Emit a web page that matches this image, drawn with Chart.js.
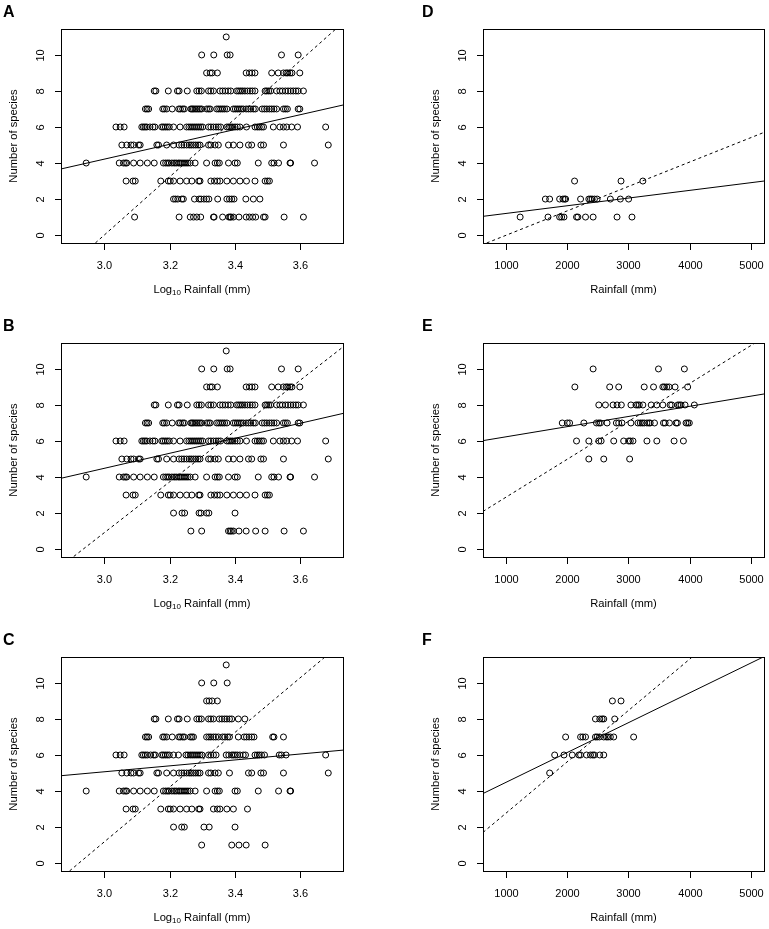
<!DOCTYPE html>
<html>
<head>
<meta charset="utf-8">
<script src="https://cdn.jsdelivr.net/npm/chart.js@4.4.0/dist/chart.umd.min.js"></script>
<style>
    html, body { margin: 0; padding: 0; background: #fff; }
    #wrap { position: relative; width: 769px; height: 929px; overflow: hidden; }
    canvas { position: absolute; }
</style>
</head>
<body>
<div id="wrap"></div>
<script>
// --- DATA: log10 rainfall per number of species (index = species count) ---
const logRainA = [
    [],
    [3.093, 3.229, 3.263, 3.273, 3.283, 3.295, 3.334, 3.336, 3.362, 3.381, 3.385, 3.388, 3.395, 3.412, 3.434, 3.444, 3.454, 3.463, 3.487, 3.492, 3.550, 3.609],
    [3.212, 3.218, 3.225, 3.237, 3.242, 3.276, 3.290, 3.296, 3.305, 3.313, 3.320, 3.347, 3.375, 3.383, 3.390, 3.397, 3.433, 3.456, 3.476],
    [3.067, 3.088, 3.095, 3.173, 3.196, 3.202, 3.212, 3.232, 3.252, 3.268, 3.289, 3.293, 3.326, 3.337, 3.346, 3.354, 3.375, 3.395, 3.415, 3.435, 3.461, 3.492, 3.499, 3.505],
    [2.945, 3.046, 3.059, 3.065, 3.069, 3.090, 3.110, 3.132, 3.153, 3.181, 3.188, 3.194, 3.199, 3.207, 3.214, 3.220, 3.227, 3.232, 3.238, 3.244, 3.250, 3.256, 3.263, 3.278, 3.313, 3.339, 3.346, 3.352, 3.380, 3.400, 3.407, 3.471, 3.512, 3.519, 3.533, 3.568, 3.570, 3.643],
    [3.054, 3.069, 3.082, 3.090, 3.105, 3.110, 3.161, 3.166, 3.191, 3.212, 3.229, 3.237, 3.244, 3.252, 3.260, 3.266, 3.273, 3.280, 3.287, 3.293, 3.319, 3.326, 3.339, 3.349, 3.380, 3.395, 3.415, 3.441, 3.451, 3.479, 3.487, 3.548, 3.685],
    [3.036, 3.049, 3.061, 3.115, 3.120, 3.125, 3.130, 3.140, 3.149, 3.155, 3.176, 3.181, 3.187, 3.193, 3.199, 3.212, 3.232, 3.252, 3.259, 3.265, 3.271, 3.277, 3.283, 3.289, 3.295, 3.301, 3.319, 3.326, 3.334, 3.342, 3.349, 3.356, 3.375, 3.381, 3.387, 3.393, 3.400, 3.407, 3.415, 3.435, 3.461, 3.468, 3.474, 3.481, 3.487, 3.517, 3.537, 3.548, 3.558, 3.573, 3.591, 3.677],
    [3.126, 3.131, 3.136, 3.179, 3.184, 3.191, 3.208, 3.228, 3.233, 3.240, 3.245, 3.265, 3.269, 3.273, 3.278, 3.283, 3.288, 3.293, 3.298, 3.313, 3.319, 3.324, 3.344, 3.350, 3.356, 3.362, 3.368, 3.375, 3.395, 3.401, 3.407, 3.413, 3.419, 3.425, 3.434, 3.441, 3.448, 3.456, 3.462, 3.483, 3.490, 3.497, 3.505, 3.512, 3.519, 3.527, 3.548, 3.554, 3.560, 3.593, 3.598],
    [3.153, 3.158, 3.196, 3.224, 3.229, 3.254, 3.283, 3.290, 3.297, 3.319, 3.326, 3.334, 3.354, 3.362, 3.370, 3.379, 3.387, 3.405, 3.411, 3.417, 3.423, 3.430, 3.438, 3.446, 3.453, 3.461, 3.492, 3.497, 3.503, 3.509, 3.527, 3.537, 3.545, 3.554, 3.562, 3.570, 3.578, 3.586, 3.593, 3.609],
    [3.313, 3.324, 3.330, 3.346, 3.434, 3.444, 3.452, 3.461, 3.512, 3.532, 3.548, 3.556, 3.561, 3.568, 3.574, 3.598],
    [3.298, 3.335, 3.376, 3.385, 3.542, 3.593],
    [3.373]
];

// B: same sites as A except fewer at 1 and 2 species
const logRainB1 = [3.265, 3.298, 3.380, 3.385, 3.389, 3.395, 3.412, 3.434, 3.463, 3.492, 3.550, 3.609];
const logRainB2 = [3.212, 3.238, 3.246, 3.290, 3.296, 3.313, 3.320, 3.400];
const logRainB = [[], logRainB1, logRainB2, ...logRainA.slice(3)];

const logRainC = [
    [],
    [3.298, 3.390, 3.412, 3.434, 3.492],
    [3.212, 3.237, 3.245, 3.305, 3.321, 3.400],
    [3.067, 3.088, 3.095, 3.173, 3.196, 3.202, 3.212, 3.232, 3.252, 3.268, 3.289, 3.293, 3.334, 3.346, 3.354, 3.375, 3.395, 3.438],
    [2.945, 3.046, 3.059, 3.065, 3.069, 3.090, 3.110, 3.132, 3.153, 3.181, 3.188, 3.194, 3.199, 3.207, 3.214, 3.220, 3.227, 3.232, 3.238, 3.244, 3.250, 3.256, 3.263, 3.278, 3.313, 3.339, 3.346, 3.352, 3.400, 3.407, 3.471, 3.533, 3.568, 3.570],
    [3.054, 3.069, 3.082, 3.090, 3.105, 3.110, 3.161, 3.166, 3.191, 3.212, 3.229, 3.237, 3.244, 3.252, 3.260, 3.266, 3.273, 3.280, 3.287, 3.293, 3.319, 3.326, 3.339, 3.349, 3.383, 3.441, 3.451, 3.479, 3.487, 3.548, 3.685],
    [3.036, 3.049, 3.061, 3.115, 3.120, 3.126, 3.132, 3.142, 3.151, 3.156, 3.176, 3.181, 3.187, 3.193, 3.199, 3.212, 3.227, 3.250, 3.256, 3.263, 3.269, 3.275, 3.281, 3.287, 3.293, 3.299, 3.319, 3.326, 3.334, 3.342, 3.373, 3.381, 3.390, 3.395, 3.401, 3.407, 3.415, 3.425, 3.432, 3.461, 3.468, 3.474, 3.481, 3.490, 3.535, 3.542, 3.556, 3.677],
    [3.126, 3.131, 3.136, 3.179, 3.184, 3.191, 3.208, 3.228, 3.233, 3.240, 3.245, 3.263, 3.268, 3.273, 3.313, 3.320, 3.326, 3.334, 3.341, 3.349, 3.362, 3.369, 3.377, 3.383, 3.410, 3.428, 3.435, 3.443, 3.451, 3.458, 3.515, 3.519, 3.548],
    [3.153, 3.158, 3.196, 3.224, 3.229, 3.254, 3.283, 3.290, 3.297, 3.319, 3.326, 3.334, 3.352, 3.360, 3.368, 3.375, 3.383, 3.390, 3.410, 3.430],
    [3.313, 3.321, 3.330, 3.346],
    [3.298, 3.335, 3.376],
    [3.373]
];

// --- DATA: rainfall (mm) per number of species ---
const rainD = [
    [],
    [1233, 1688, 1878, 1911, 1949, 2154, 2176, 2301, 2425, 2816, 3060],
    [1645, 1715, 1878, 1932, 1959, 1976, 2220, 2355, 2382, 2409, 2447, 2491, 2707, 2870, 3005],
    [2122, 2881, 3238]
];
const rainE = [
    [], [], [], [], [],
    [2355, 2599, 3022],
    [2154, 2355, 2518, 2556, 2762, 2924, 3005, 3033, 3076, 3304, 3466, 3748, 3900],
    [1921, 2003, 2041, 2274, 2480, 2518, 2545, 2653, 2805, 2843, 2897, 3043, 3157, 3195, 3228, 3260, 3304, 3336, 3358, 3428, 3575, 3602, 3672, 3780, 3802, 3943, 3970, 3997],
    [2518, 2626, 2751, 2816, 2886, 3043, 3125, 3152, 3179, 3238, 3374, 3466, 3564, 3683, 3710, 3808, 3835, 3862, 3927, 4079],
    [2127, 2696, 2843, 3260, 3412, 3564, 3591, 3629, 3667, 3764, 3970],
    [2425, 3493, 3916]
];
const rainF = [
    [], [], [], [], [],
    [1715],
    [1797, 1949, 2084, 2192, 2220, 2317, 2382, 2420, 2447, 2534, 2599],
    [1976, 2220, 2257, 2301, 2463, 2491, 2528, 2599, 2642, 2669, 2707, 2762, 3087],
    [2463, 2534, 2572, 2599, 2778],
    [2740, 2881]
];

// fitted lines, two ends each [x, species]
const fitA = [[2.868, 3.67], [3.730, 7.22]];
const dashA = [[2.973, -0.44], [3.708, 11.44]];
const fitB = [[2.868, 3.93], [3.730, 7.53]];
const dashB = [[2.907, -0.41], [3.730, 11.22]];
const fitC = [[2.868, 4.85], [3.730, 6.27]];
const dashC = [[2.894, -0.44], [3.675, 11.44]];
const fitD = [[626, 1.04], [5217, 3.00]];
const dashD = [[686, -0.44], [5217, 5.70]];
const fitE = [[626, 6.02], [5217, 8.61]];
const dashE = [[626, 2.09], [5065, 11.43]];
const fitF = [[626, 3.86], [5217, 11.46]];
const dashF = [[626, 1.70], [4051, 11.46]];

// axes
const logTicks = [3.0, 3.2, 3.4, 3.6];
const logTickLabels = ['3.0', '3.2', '3.4', '3.6'];
const rainTicks = [1000, 2000, 3000, 4000, 5000];
const rainTickLabels = ['1000', '2000', '3000', '4000', '5000'];
const speciesTicks = [0, 2, 4, 6, 8, 10];
const speciesTickLabels = ['0', '2', '4', '6', '8', '10'];

const panels = [
    { letter: 'A', col: 0, row: 0, rows: logRainA, fit: fitA, dash: dashA, log: true },
    { letter: 'B', col: 0, row: 1, rows: logRainB, fit: fitB, dash: dashB, log: true },
    { letter: 'C', col: 0, row: 2, rows: logRainC, fit: fitC, dash: dashC, log: true },
    { letter: 'D', col: 1, row: 0, rows: rainD, fit: fitD, dash: dashD, log: false },
    { letter: 'E', col: 1, row: 1, rows: rainE, fit: fitE, dash: dashE, log: false },
    { letter: 'F', col: 1, row: 2, rows: rainF, fit: fitF, dash: dashF, log: false }
];

const FONT = '"Liberation Sans", Arial, sans-serif';

// R-style box, ticks and labels
const rAxes = {
    id: 'rAxes',
    afterDraw(chart, args, opts) {
        const { ctx, chartArea: a } = chart;
        const x = chart.scales.x, y = chart.scales.y;
        ctx.save();
        ctx.strokeStyle = '#000';
        ctx.fillStyle = '#000';
        ctx.lineWidth = 1;
        ctx.strokeRect(a.left + 0.5, a.top + 0.5, a.right - a.left, a.bottom - a.top);

        ctx.font = '11px ' + FONT;
        ctx.textAlign = 'center';
        ctx.textBaseline = 'middle';
        ctx.beginPath();
        opts.xTicks.forEach((v, i) => {
            const px = Math.round(x.getPixelForValue(v)) + 0.5;
            ctx.moveTo(px, a.bottom + 0.5);
            ctx.lineTo(px, a.bottom + 7);
            ctx.fillText(opts.xLabels[i], px, a.bottom + 22.5);
        });
        speciesTicks.forEach(v => {
            const py = Math.round(y.getPixelForValue(v)) + 0.5;
            ctx.moveTo(a.left + 0.5, py);
            ctx.lineTo(a.left - 6, py);
        });
        ctx.stroke();
        speciesTicks.forEach((v, i) => {
            const py = Math.round(y.getPixelForValue(v)) + 0.5;
            ctx.save();
            ctx.translate(a.left - 20.5, py);
            ctx.rotate(-Math.PI / 2);
            ctx.fillText(speciesTickLabels[i], 0, 0);
            ctx.restore();
        });

        // axis titles
        ctx.font = '11.2px ' + FONT;
        ctx.save();
        ctx.translate(a.left - 47.5, (a.top + a.bottom) / 2);
        ctx.rotate(-Math.PI / 2);
        ctx.fillText('Number of species', 0, 0);
        ctx.restore();

        const cx = (a.left + a.right) / 2, ty = a.bottom + 46.5;
        if (opts.log) {
            const rest = ' Rainfall (mm)';
            const w1 = ctx.measureText('Log').width;
            const w3 = ctx.measureText(rest).width;
            ctx.font = '8px ' + FONT;
            const w2 = ctx.measureText('10').width;
            let sx = cx - (w1 + w2 + w3) / 2;
            ctx.textAlign = 'left';
            ctx.font = '11.2px ' + FONT;
            ctx.fillText('Log', sx, ty);
            ctx.font = '8px ' + FONT;
            ctx.fillText('10', sx + w1, ty + 3);
            ctx.font = '11.2px ' + FONT;
            ctx.fillText(rest, sx + w1 + w2, ty);
        } else {
            ctx.fillText('Rainfall (mm)', cx, ty);
        }

        // panel letter
        ctx.font = 'bold 16px ' + FONT;
        ctx.textAlign = 'left';
        ctx.fillText(opts.letter, opts.letterX, 12.5);
        ctx.restore();
    }
};

const wrap = document.getElementById('wrap');

panels.forEach(p => {
    const w = p.col === 0 ? 384 : 385;
    const h = p.row < 2 ? 314 : 301;
    const canvas = document.createElement('canvas');
    canvas.width = w;
    canvas.height = h;
    canvas.style.left = (p.col * 384) + 'px';
    canvas.style.top = (p.row * 314) + 'px';
    canvas.style.width = w + 'px';
    canvas.style.height = h + 'px';
    wrap.appendChild(canvas);

    const pts = [];
    p.rows.forEach((xs, count) => xs.forEach(v => pts.push({ x: v, y: count })));
    const toPts = arr => arr.map(d => ({ x: d[0], y: d[1] }));

    new Chart(canvas.getContext('2d'), {
        type: 'scatter',
        data: {
            datasets: [
                {
                    data: toPts(p.fit), showLine: true, borderColor: '#000', borderWidth: 1,
                    pointRadius: 0
                },
                {
                    data: toPts(p.dash), showLine: true, borderColor: '#000', borderWidth: 1,
                    borderDash: [3, 3], pointRadius: 0
                },
                {
                    data: pts, pointStyle: 'circle', pointRadius: 3, borderWidth: 1,
                    borderColor: '#000', backgroundColor: 'rgba(0,0,0,0)'
                }
            ]
        },
        options: {
            responsive: false,
            animation: false,
            events: [],
            layout: {
                padding: {
                    top: 29,
                    bottom: h - 243,
                    left: p.col === 0 ? 61 : 99,
                    right: p.col === 0 ? 41 : 4
                }
            },
            scales: {
                x: { type: 'linear', display: false, min: p.log ? 2.868 : 626, max: p.log ? 3.730 : 5217 },
                y: { type: 'linear', display: false, min: -0.44, max: 11.44 }
            },
            plugins: {
                legend: { display: false },
                tooltip: { enabled: false },
                rAxes: {
                    letter: p.letter,
                    letterX: p.col === 0 ? 3 : 38,
                    log: p.log,
                    xTicks: p.log ? logTicks : rainTicks,
                    xLabels: p.log ? logTickLabels : rainTickLabels
                }
            }
        },
        plugins: [rAxes]
    });
});
</script>
</body>
</html>
